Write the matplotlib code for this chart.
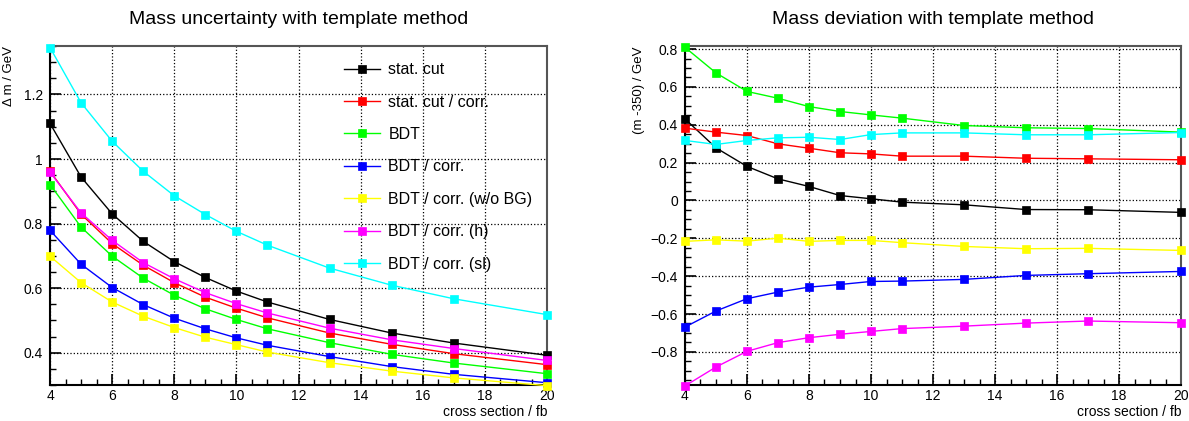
import matplotlib
matplotlib.use('Agg')
import matplotlib.pyplot as plt
from matplotlib.ticker import MultipleLocator, FuncFormatter

plt.rcParams['font.family'] = ['Liberation Sans', 'DejaVu Sans']

xsec = [4, 5, 6, 7, 8, 9, 10, 11, 13, 15, 17, 20]

labels = ['stat. cut', 'stat. cut / corr.', 'BDT', 'BDT / corr.',
          'BDT / corr. (w/o BG)', 'BDT / corr. (h)', 'BDT / corr. (sl)']
colors = ['#000000', '#ff0000', '#00ff00', '#0000ff', '#ffff00', '#ff00ff', '#00ffff']

# mass uncertainty (GeV)
unc_stat = [1.110, 0.944, 0.830, 0.745, 0.682, 0.633, 0.591, 0.557, 0.503, 0.461, 0.430, 0.392]
unc_stat_corr = [0.962, 0.829, 0.738, 0.671, 0.617, 0.572, 0.538, 0.508, 0.461, 0.426, 0.397, 0.363]
unc_bdt = [0.921, 0.789, 0.699, 0.631, 0.578, 0.536, 0.503, 0.474, 0.431, 0.395, 0.368, 0.335]
unc_bdt_corr = [0.779, 0.674, 0.602, 0.549, 0.507, 0.474, 0.446, 0.423, 0.388, 0.357, 0.333, 0.307]
unc_bdt_nobg = [0.699, 0.617, 0.557, 0.513, 0.478, 0.448, 0.425, 0.402, 0.369, 0.343, 0.322, 0.298]
unc_bdt_h = [0.959, 0.833, 0.748, 0.679, 0.629, 0.586, 0.552, 0.523, 0.476, 0.440, 0.413, 0.376]
unc_bdt_sl = [1.345, 1.174, 1.055, 0.962, 0.886, 0.828, 0.776, 0.733, 0.662, 0.609, 0.567, 0.518]

# mass deviation m - 350 (GeV)
dev_stat = [0.431, 0.278, 0.180, 0.114, 0.074, 0.026, 0.009, -0.009, -0.023, -0.048, -0.049, -0.063]
dev_stat_corr = [0.382, 0.361, 0.343, 0.299, 0.276, 0.252, 0.246, 0.234, 0.234, 0.223, 0.220, 0.215]
dev_bdt = [0.809, 0.674, 0.576, 0.540, 0.496, 0.470, 0.452, 0.435, 0.396, 0.384, 0.380, 0.361]
dev_bdt_corr = [-0.669, -0.584, -0.519, -0.484, -0.458, -0.444, -0.428, -0.426, -0.417, -0.396, -0.387, -0.375]
dev_bdt_nobg = [-0.216, -0.208, -0.215, -0.199, -0.216, -0.211, -0.211, -0.223, -0.243, -0.255, -0.253, -0.264]
dev_bdt_h = [-0.980, -0.880, -0.797, -0.751, -0.725, -0.707, -0.692, -0.677, -0.664, -0.648, -0.637, -0.646]
dev_bdt_sl = [0.317, 0.296, 0.317, 0.331, 0.334, 0.322, 0.348, 0.357, 0.357, 0.347, 0.347, 0.359]


def fmt(v, pos):
    return ('%g' % round(v, 6)).replace('-', '\u2212')


def style(ax, ylim, ymaj, ymin, ylabel, ylab_x):
    ax.set_xlim(4, 20)
    ax.set_ylim(*ylim)
    ax.xaxis.set_major_locator(MultipleLocator(2))
    ax.xaxis.set_minor_locator(MultipleLocator(0.5))
    ax.yaxis.set_major_locator(MultipleLocator(ymaj))
    ax.yaxis.set_minor_locator(MultipleLocator(ymin))
    ax.yaxis.set_major_formatter(FuncFormatter(fmt))
    ax.tick_params(which='both', direction='in', top=False, right=False, labelsize=10)
    ax.tick_params(axis='x', pad=3)
    ax.tick_params(axis='y', pad=5)
    ax.tick_params(which='major', length=8, width=1.2)
    ax.tick_params(which='minor', length=4, width=1)
    ax.grid(True, which='major', color='black', linestyle=':', linewidth=0.9)
    for s in ax.spines.values():
        s.set_linewidth(1.5)
    ax.spines['top'].set_color('#555555')
    ax.spines['right'].set_color('#555555')
    ax.set_xlabel('cross section / fb', loc='right', fontsize=10)
    ax.xaxis.set_label_coords(1.0, -0.058)
    ax.set_ylabel(ylabel, loc='top', fontsize=9.5)
    ax.yaxis.set_label_coords(ylab_x, 1.0)


def main():
    fig = plt.figure(figsize=(11.89, 4.21), dpi=100)
    ax1 = fig.add_axes([0.0421, 0.0855, 0.4180, 0.8052])
    ax2 = fig.add_axes([0.5761, 0.0855, 0.4172, 0.8052])

    unc = [unc_stat, unc_stat_corr, unc_bdt, unc_bdt_corr, unc_bdt_nobg, unc_bdt_h, unc_bdt_sl]
    dev = [dev_stat, dev_stat_corr, dev_bdt, dev_bdt_corr, dev_bdt_nobg, dev_bdt_h, dev_bdt_sl]

    for i in range(len(labels)):
        ax1.plot(xsec, unc[i], color=colors[i], marker='s', markersize=6, markeredgewidth=0.5,
                 linewidth=1, label=labels[i], clip_on=False, zorder=3)
        ax2.plot(xsec, dev[i], color=colors[i], marker='s', markersize=6, markeredgewidth=0.5,
                 linewidth=1, clip_on=False, zorder=3)

    style(ax1, (0.3, 1.35), 0.2, 0.05, '\u0394 m / GeV', -0.07)
    style(ax2, (-0.975, 0.816), 0.2, 0.05, '(m -350) / GeV', -0.081)

    ax1.set_title('Mass uncertainty with template method', fontsize=14, pad=16)
    ax2.set_title('Mass deviation with template method', fontsize=14, pad=16)

    ax1.legend(loc='upper left', bbox_to_anchor=(0.565, 0.99), frameon=False, fontsize=11.5,
               handlelength=2.3, labelspacing=1.09, handletextpad=0.5, borderpad=0.3)

    fig.savefig('out.png', dpi=100)


if __name__ == '__main__':
    main()
